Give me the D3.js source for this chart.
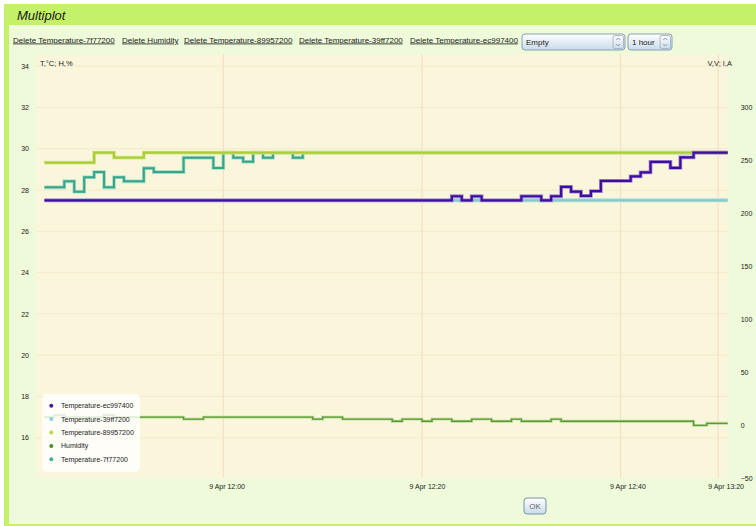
<!DOCTYPE html>
<html lang="en">
<head>
<meta charset="utf-8">
<title>Multiplot</title>
<script src="https://d3js.org/d3.v7.min.js"></script>
<style type="text/css">
  body { margin: 0; background: #fff; }
  svg { display: block; font-family: "Liberation Sans", Arial, sans-serif; }
  .tick text { fill: #222; font-size: 7px; }
  .link { font-size: 8px; fill: #1a1a1a; text-decoration: underline; }
</style>
</head>
<body>
<script type="text/javascript">

// series data (time of day, value)
var tempEcTimes  = ["11:42","12:23","12:24","12:25","12:26","12:30","12:32","12:33","12:34","12:35","12:36","12:37","12:38","12:41","12:42","12:43","12:45","12:46","12:47:20","12:50:46"];
var tempEcValues = [27.5, 27.7, 27.5, 27.7, 27.5, 27.7, 27.5, 27.7, 28.15, 27.92, 27.72, 27.95, 28.44, 28.66, 28.86, 29.36, 29.07, 29.58, 29.81, 29.81];

var temp39Times  = ["11:42","12:50:46"];
var temp39Values = [27.5, 27.5];

var temp89Times  = ["11:42","11:47","11:49","11:52","12:50:46"];
var temp89Values = [29.33, 29.81, 29.57, 29.81, 29.81];

var humTimes  = ["11:42","11:43","11:44","11:48","11:49","11:56","11:58","12:09","12:10","12:12","12:17","12:18","12:20","12:21","12:23","12:25","12:27","12:29","12:30","12:33","12:34","12:47:20","12:48:40","12:50:46"];
var humValues = [17.0, 17.1, 17.0, 17.1, 17.0, 16.9, 17.0, 16.9, 17.0, 16.9, 16.8, 16.9, 16.8, 16.9, 16.8, 16.9, 16.8, 16.9, 16.8, 16.9, 16.8, 16.6, 16.7, 16.7];

var temp7fTimes  = ["11:42","11:44","11:45","11:46","11:47","11:48","11:49","11:50","11:52","11:53","11:56","11:59","12:00","12:01","12:02","12:03","12:04","12:05","12:07","12:08","12:50:46"];
var temp7fValues = [28.13, 28.42, 27.92, 28.62, 28.87, 28.13, 28.62, 28.42, 29.06, 28.87, 29.57, 29.07, 29.81, 29.57, 29.37, 29.81, 29.57, 29.81, 29.57, 29.81, 29.81];

var legendNames  = ["Temperature-ec997400", "Temperature-39ff7200", "Temperature-89957200", "Humidity", "Temperature-7f77200"];
var legendColors = ["#4b17a2", "#8ecfe2", "#b8d84a", "#4f8f20", "#40b09b"];

var linkNames = ["Delete Temperature-7f77200", "Delete Humidity", "Delete Temperature-89957200", "Delete Temperature-39ff7200", "Delete Temperature-ec997400"];

var leftTicks  = [16, 18, 20, 22, 24, 26, 28, 30, 32, 34];
var rightTicks = [-50, 0, 50, 100, 150, 200, 250, 300];
var xTickTimes  = ["12:00", "12:20", "12:40", "12:49:48"];
var xTickLabels = ["9 Apr 12:00", "9 Apr 12:20", "9 Apr 12:40", "9 Apr 13:20"];

var w = 756, h = 526;
var plot = {left: 36, right: 727.7, top: 54, bottom: 478};

function tp(s) {
  return d3.timeParse(s.length > 5 ? "%H:%M:%S" : "%H:%M")(s);
}
function pairs(times, values) {
  return times.map(function(t, i) { return {t: tp(t), v: values[i]}; });
}

var svg = d3.select("body").append("svg")
            .attr("width", w)
            .attr("height", h);

// frame: lime header, left bar, bottom bar, light panel
svg.append("rect").attr("x", 4).attr("y", 4).attr("width", w - 4).attr("height", h - 4).attr("fill", "#c4f06a");
svg.append("rect").attr("x", 9).attr("y", 25).attr("width", w - 9).attr("height", 499).attr("fill", "#eefad9");
svg.append("text")
   .attr("x", 17).attr("y", 20)
   .attr("font-size", 13).attr("font-style", "italic").attr("fill", "#1a1a1a")
   .text("Multiplot");

// delete links
var linkX = [13, 122, 184, 299, 410];
svg.selectAll(".link").data(linkNames).enter()
   .append("text").attr("class", "link")
   .attr("x", (d, i) => linkX[i]).attr("y", 42.5)
   .text(d => d);

// control gradients
var defs = svg.append("defs");
var grad = defs.append("linearGradient").attr("id", "ctl").attr("x1", 0).attr("y1", 0).attr("x2", 0).attr("y2", 1);
grad.append("stop").attr("offset", "0%").attr("stop-color", "#ffffff");
grad.append("stop").attr("offset", "100%").attr("stop-color", "#c9dbea");

function selectBox(x0, x1, label) {
  var g = svg.append("g");
  g.append("rect").attr("x", x0).attr("y", 34).attr("width", x1 - x0).attr("height", 16).attr("rx", 3)
   .attr("fill", "url(#ctl)").attr("stroke", "#8aa0b4");
  g.append("rect").attr("x", x1 - 12).attr("y", 35.5).attr("width", 10.5).attr("height", 13).attr("rx", 2)
   .attr("fill", "url(#ctl)").attr("stroke", "#a9b8c6");
  var cx = x1 - 6.75;
  g.append("path").attr("d", `M${cx - 2},${40} L${cx},${38} L${cx + 2},${40}`).attr("fill", "none").attr("stroke", "#8a9aa8");
  g.append("path").attr("d", `M${cx - 2},${44} L${cx},${46} L${cx + 2},${44}`).attr("fill", "none").attr("stroke", "#8a9aa8");
  g.append("text").attr("x", x0 + 4).attr("y", 45).attr("font-size", 8).attr("fill", "#222").text(label);
}
selectBox(522, 625, "Empty");
selectBox(628, 672, "1 hour");

// OK button
svg.append("rect").attr("x", 524).attr("y", 498).attr("width", 22).attr("height", 16).attr("rx", 3)
   .attr("fill", "url(#ctl)").attr("stroke", "#7b93a6");
svg.append("text").attr("x", 535).attr("y", 509).attr("text-anchor", "middle")
   .attr("font-size", 8).attr("fill", "#666").text("OK");

// plot background
svg.append("rect")
   .attr("x", plot.left).attr("y", plot.top)
   .attr("width", plot.right - plot.left).attr("height", plot.bottom - plot.top)
   .attr("fill", "#faf6db");

// scales
var xScale = d3.scaleTime()
               .domain([tp("11:41:09"), tp("12:50:46")])
               .range([plot.left, plot.right]);
// the labels sit slightly right of their grid lines in the original
var xLabelScale = d3.scaleTime()
               .domain(xScale.domain())
               .range([37.7, 735.3]);
var yLeft = d3.scaleLinear().domain([14.05, 34.59]).range([plot.bottom, plot.top]);
var yRight = d3.scaleLinear().domain([-50, 350]).range([plot.bottom, plot.top]);

// grid
svg.append("g").selectAll("line").data(leftTicks).enter().append("line")
   .attr("x1", plot.left).attr("x2", plot.right)
   .attr("y1", d => yLeft(d)).attr("y2", d => yLeft(d))
   .attr("stroke", "#f3e9cf").attr("stroke-width", 1);

svg.append("g").selectAll("line").data(xTickTimes).enter().append("line")
   .attr("x1", d => xScale(tp(d))).attr("x2", d => xScale(tp(d)))
   .attr("y1", plot.top).attr("y2", plot.bottom)
   .attr("stroke", "#f3dcc6").attr("stroke-width", 1);

// axes
var leftAxis = d3.axisLeft(yLeft).tickValues(leftTicks).tickSize(0).tickPadding(7);
svg.append("g").attr("transform", `translate(${plot.left},0)`).call(leftAxis)
   .call(g => g.select(".domain").remove());

var rightAxis = d3.axisRight(yRight).tickValues(rightTicks).tickSize(0).tickPadding(13);
svg.append("g").attr("transform", `translate(${plot.right},0)`).call(rightAxis)
   .call(g => g.select(".domain").remove());

var bottomAxis = d3.axisBottom(xLabelScale)
                   .tickValues(xTickTimes.map(tp))
                   .tickFormat((d, i) => xTickLabels[i])
                   .tickSize(0).tickPadding(6);
svg.append("g").attr("transform", `translate(0,${plot.bottom})`).call(bottomAxis)
   .call(g => g.select(".domain").remove());

svg.append("text").attr("x", 40).attr("y", 66).attr("font-size", 7.5).attr("fill", "#222").text("T,°C; H,%");
svg.append("text").attr("x", 732).attr("y", 66).attr("text-anchor", "end").attr("font-size", 7.5).attr("fill", "#222").text("V,V; I,A");

// lines, bottom to top
var lineGen = d3.line()
                .x(d => xScale(d.t))
                .y(d => yLeft(d.v))
                .curve(d3.curveStepAfter);

var series = [
  {data: pairs(temp7fTimes, temp7fValues), color: "#36a588", halo: "#a3dac6", width: 2},
  {data: pairs(humTimes, humValues),       color: "#5c9a2c", halo: "#bcd9a2", width: 1.3},
  {data: pairs(temp89Times, temp89Values), color: "#abcd3a", halo: "#d6e98f", width: 2.2},
  {data: pairs(temp39Times, temp39Values), color: "#86caca", halo: "#b9e0df", width: 2.4},
  {data: pairs(tempEcTimes, tempEcValues), color: "#3f0d9e", halo: "#a692d2", width: 2.2}
];

series.forEach(function(s) {
  svg.append("path").datum(s.data)
     .attr("d", lineGen).attr("fill", "none")
     .attr("stroke", s.halo).attr("stroke-width", s.width + 1.6);
  svg.append("path").datum(s.data)
     .attr("d", lineGen).attr("fill", "none")
     .attr("stroke", s.color).attr("stroke-width", s.width);
});

// legend
var legend = svg.append("g");
legend.append("rect")
      .attr("x", 42).attr("y", 394).attr("width", 98).attr("height", 78).attr("rx", 5)
      .attr("fill", "#ffffff").attr("fill-opacity", 0.8);
var rows = legend.selectAll(".row").data(legendNames).enter().append("g")
      .attr("transform", (d, i) => `translate(0,${405.7 + i * 13.4})`);
rows.append("circle").attr("cx", 51.3).attr("cy", 0).attr("r", 2).attr("fill", (d, i) => legendColors[i]);
rows.append("text").attr("x", 61).attr("y", 2.5).attr("font-size", 7).attr("fill", "#222").text(d => d);

</script>
</body>
</html>
